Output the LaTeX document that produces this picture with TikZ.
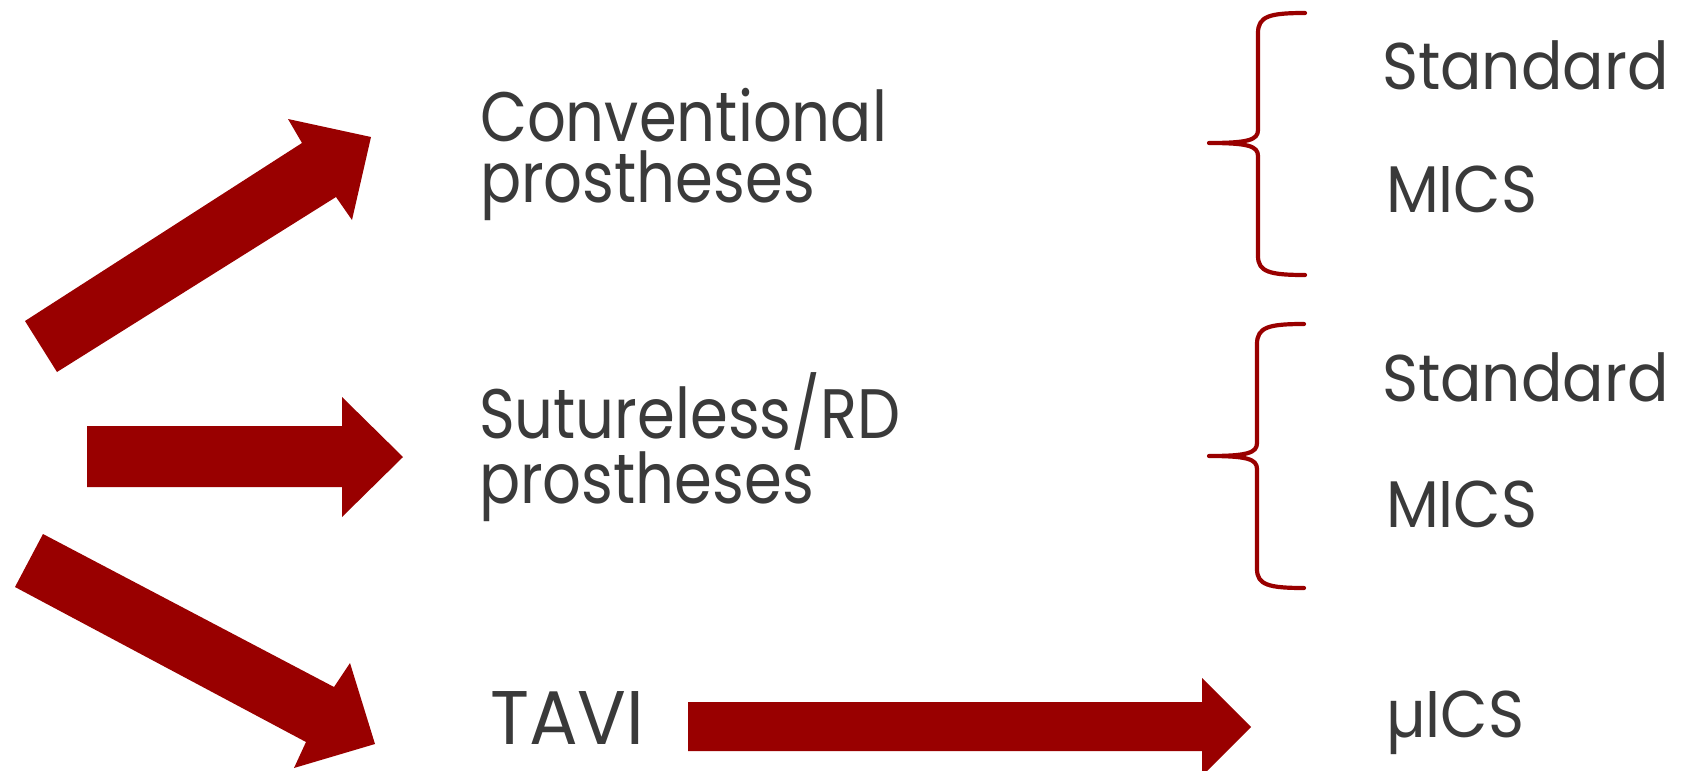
\documentclass[tikz,border=0pt]{standalone}
\usepackage{fontspec}
\setmainfont{Poppins}
\newfontfamily\leftfont[FakeStretch=0.87]{Poppins}
\newfontfamily\rightfont[FakeStretch=0.93]{Poppins}
\newfontfamily\taviFont[FakeStretch=0.95]{Poppins}
\definecolor{arrred}{RGB}{153,0,0}
\definecolor{arrdark}{RGB}{138,0,0}
\definecolor{txtgray}{RGB}{58,58,58}
\begin{document}
\begin{tikzpicture}[x=1pt,y=-1pt,
  blockarrow/.style={fill=arrred},
  bracestyle/.style={draw=arrred,line width=4.2pt,line cap=round,line join=round},
  label/.style={inner sep=0pt,outer sep=0pt,anchor=base west,text=txtgray},
  big/.style={align=left,font=\leftfont\fontsize{70}{61}\selectfont},
  mid/.style={font=\rightfont\fontsize{66}{80}\selectfont},
  huge/.style={font=\taviFont\fontsize{76}{90}\selectfont}]
\useasboundingbox (0,0) rectangle (1690,771);
\clip (0,0) rectangle (1690,771);
% block arrows
\path[blockarrow]
  (25,321) -- (302,143) -- (288,119) -- (371,137) -- (352,220) -- (336,197) -- (57,372) -- cycle;
\path[blockarrow]
  (87,426) -- (342,426) -- (342,397) -- (403,457) -- (342,517) -- (342,487) -- (87,487) -- cycle;
\path[blockarrow]
  (43,534) -- (334,687) -- (350,663) -- (375,744) -- (294,768) -- (306,742) -- (15,587) -- cycle;
\path[blockarrow]
  (688,702) -- (1202,702) -- (1202,678) -- (1251,727) -- (1202,776) -- (1202,751) -- (688,751) -- cycle;
% braces
\draw[bracestyle] (1305,13) .. controls (1270,13) and (1258,16) .. (1258,33) -- (1258,130)
  .. controls (1258,140) and (1248,143) .. (1209,143)
  .. controls (1248,143) and (1258,146) .. (1258,156) -- (1258,256)
  .. controls (1258,272) and (1270,275) .. (1305,275);
\draw[bracestyle] (1304,324) .. controls (1269,324) and (1257,327) .. (1257,344) -- (1257,443)
  .. controls (1257,453) and (1247,456) .. (1209,456)
  .. controls (1247,456) and (1257,459) .. (1257,469) -- (1257,569)
  .. controls (1257,585) and (1269,588) .. (1304,588);
% texts
\node[label,big] (conv) at (480,202) {Conventional\\prostheses};
\node[label,big] (sut) at (479,503) {Sutureless/RD\\prostheses};
\node[label,huge] (tavi) at (490,744) {TAVI};
\node[label,mid] (std1) at (1382,89) {Standard};
\node[label,mid] (mics1) at (1386,212) {MICS};
\node[label,mid] (std2) at (1382,401) {Standard};
\node[label,mid] (mics2) at (1386,527) {MICS};
\node[label,mid] (micro) at (1386,737) {µICS};
\end{tikzpicture}
\end{document}
